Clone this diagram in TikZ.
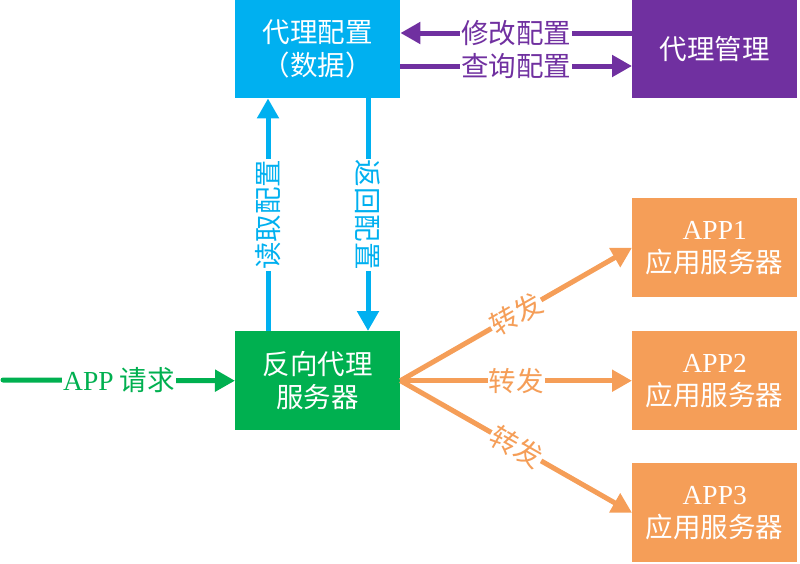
\documentclass[tikz,border=0pt]{standalone}
\usepackage{fontspec}
\setmainfont{Liberation Serif}
\newfontfamily\cjk{Noto Sans CJK SC}
\usetikzlibrary{arrows.meta}
\definecolor{cblue}{HTML}{00B0F0}
\definecolor{cpurple}{HTML}{7030A0}
\definecolor{cgreen}{HTML}{00B050}
\definecolor{corange}{HTML}{F59E58}
\tikzset{
  box/.style={draw=none, minimum width=165pt, minimum height=98pt, text=white, align=center,
    font=\fontsize{27.5}{33}\selectfont\cjk, inner sep=0pt},
  conn/.style={line width=5pt, -{Triangle[length=20pt,width=21pt]}},
  lbl/.style={fill=white, inner sep=1pt, font=\fontsize{27.5}{30}\selectfont\cjk},
}
\begin{document}
\begin{tikzpicture}[x=1pt,y=-1pt]
\useasboundingbox (0,0) rectangle (800,563);
\node[box, fill=cblue, anchor=north west] (cfg) at (235,0) {代理配置\\（数据）};
\node[box, fill=cpurple, anchor=north west] (mgmt) at (632,0) {代理管理};
\node[box, fill=cgreen, anchor=north west, minimum height=99pt] (proxy) at (235,331) {反向代理\\服务器};
\node[box, fill=corange, anchor=north west, minimum height=99pt] (app1) at (632,198) {{\rmfamily APP1}\\应用服务器};
\node[box, fill=corange, anchor=north west, minimum height=99pt] (app2) at (632,331) {{\rmfamily APP2}\\应用服务器};
\node[box, fill=corange, anchor=north west, minimum height=99pt] (app3) at (632,463) {{\rmfamily APP3}\\应用服务器};
\coordinate (start) at (3,380);
% purple
\draw[conn, cpurple] (mgmt.west |- 0,33) -- node[lbl, text=cpurple] {修改配置} (cfg.east |- 0,33);
\draw[conn, cpurple] (cfg.east |- 0,66) -- node[lbl, text=cpurple] {查询配置} (mgmt.west |- 0,66);
% blue
\draw[conn, cblue] (proxy.north -| 268,0) -- node[lbl, text=cblue, rotate=90] {读取配置} (cfg.south -| 268,0);
\draw[conn, cblue] (cfg.south -| 368,0) -- node[lbl, text=cblue, rotate=-90] {返回配置} (proxy.north -| 368,0);
% green
\draw[conn, cgreen, line cap=round] (start) -- node[lbl, text=cgreen, pos=0.5] {{\rmfamily APP}\ 请求} (proxy.west);
% orange
\draw[conn, corange] (proxy.east) -- node[lbl, text=corange, sloped] {转发} (app1.west);
\draw[conn, corange] (proxy.east) -- node[lbl, text=corange] {转发} (app2.west);
\draw[conn, corange] (proxy.east) -- node[lbl, text=corange, sloped] {转发} (app3.west);
\end{tikzpicture}
\end{document}
